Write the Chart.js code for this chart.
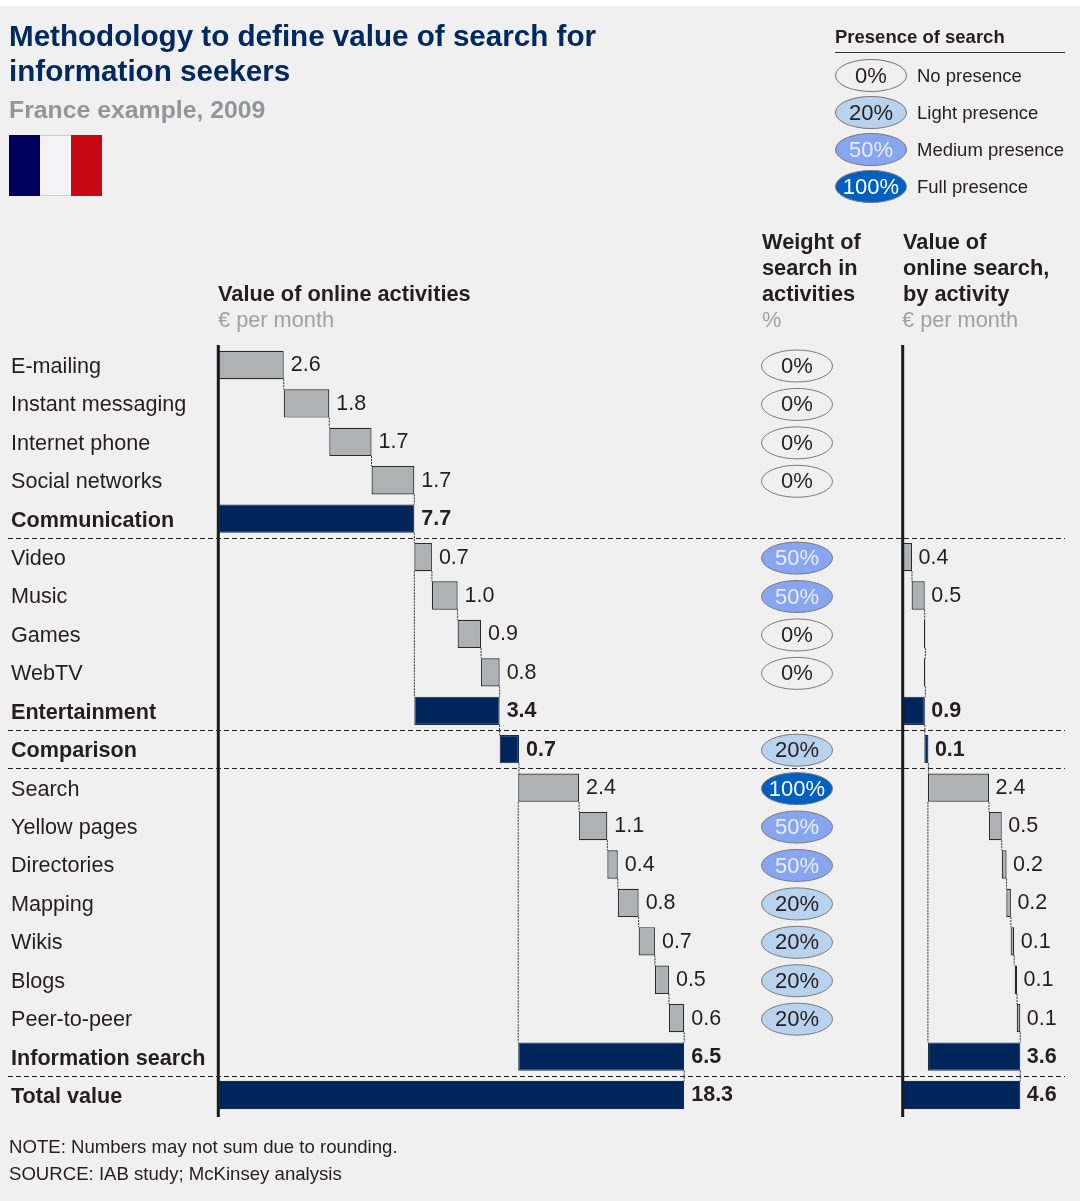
<!DOCTYPE html>
<html>
<head>
<meta charset="utf-8">
<title>Value of search</title>
<script src="https://cdn.jsdelivr.net/npm/chart.js@4"></script>
<style>
    html, body { margin: 0; padding: 0; background: #fff; }
    #page { position: relative; width: 1080px; height: 1201px; overflow: hidden; font-family: "Liberation Sans", Arial, sans-serif; color: #231f20; }
    #bg { position: absolute; left: 0; top: 6px; width: 1080px; height: 1195px; background: #f0f0f0; }
    #wykres { position: absolute; left: 0; top: 0; }
    .t { position: absolute; white-space: nowrap; }
    .title { left: 9px; top: 18px; font-size: 29.6px; line-height: 35px; font-weight: bold; color: #002960; }
    .sub { left: 9px; top: 96px; font-size: 24.8px; line-height: 28px; font-weight: bold; color: #939598; }
    .head { font-size: 21.75px; line-height: 26px; font-weight: bold; }
    .unit { font-size: 21.75px; line-height: 26px; color: #a0a1a4; }
    .flag { position: absolute; left: 9px; top: 135px; width: 93px; height: 61px; display: flex; }
    .flag div { flex: 1; }
    .pill { position: absolute; left: 835px; width: 70px; height: 31px; border: 1px solid #7a7a7a; border-radius: 50%; text-align: center; font-size: 22px; line-height: 31px; }
    .lab { position: absolute; left: 917px; font-size: 18.5px; line-height: 24px; white-space: nowrap; }
    .foot { left: 9px; font-size: 18.6px; line-height: 22px; }
</style>
</head>
<body>
<div id="page">
    <div id="bg"></div>
    <canvas id="wykres" width="1080" height="1201"></canvas>

    <div class="t title">Methodology to define value of search for<br>information seekers</div>
    <div class="t sub">France example, 2009</div>
    <div class="flag"><div style="background:#00005f"></div><div style="background:#f3f3f5;box-shadow:inset 0 1px #d0d0d0,inset 0 -1px #d0d0d0"></div><div style="background:#c80815"></div></div>

    <div class="t" style="left:835px;top:26px;font-size:18.5px;line-height:22px;font-weight:bold">Presence of search</div>
    <div style="position:absolute;left:835px;top:52px;width:230px;height:1px;background:#333"></div>
    <div class="pill" style="top:59px;background:#f0f0f0">0%</div>
    <div class="lab" style="top:64px">No presence</div>
    <div class="pill" style="top:96px;background:#b9d2ee">20%</div>
    <div class="lab" style="top:101px">Light presence</div>
    <div class="pill" style="top:133px;background:#88a6f0;color:#e8eefc">50%</div>
    <div class="lab" style="top:138px">Medium presence</div>
    <div class="pill" style="top:170px;background:#0060c0;color:#fff">100%</div>
    <div class="lab" style="top:175px">Full presence</div>

    <div class="t head" style="left:218px;top:281px">Value of online activities</div>
    <div class="t unit" style="left:218px;top:307px">€ per month</div>
    <div class="t head" style="left:762px;top:229px">Weight of<br>search in<br>activities</div>
    <div class="t unit" style="left:762px;top:307px">%</div>
    <div class="t head" style="left:903px;top:229px">Value of<br>online search,<br>by activity</div>
    <div class="t unit" style="left:902px;top:307px">€ per month</div>

    <div class="t foot" style="top:1136px">NOTE: Numbers may not sum due to rounding.</div>
    <div class="t foot" style="top:1163px">SOURCE: IAB study; McKinsey analysis</div>
</div>

<script>
// Rows of the chart, top to bottom
const categories = ['E-mailing', 'Instant messaging', 'Internet phone', 'Social networks', 'Communication',
    'Video', 'Music', 'Games', 'WebTV', 'Entertainment', 'Comparison',
    'Search', 'Yellow pages', 'Directories', 'Mapping', 'Wikis', 'Blogs', 'Peer-to-peer', 'Information search', 'Total value'];
const totalRows = ['Communication', 'Entertainment', 'Comparison', 'Information search', 'Total value'];

// Value of online activities: printed label, bar start, bar end
const activityLabels = ['2.6', '1.8', '1.7', '1.7', '7.7', '0.7', '1.0', '0.9', '0.8', '3.4', '0.7', '2.4', '1.1', '0.4', '0.8', '0.7', '0.5', '0.6', '6.5', '18.3'];
const activityStart = [0, 2.57, 4.36, 6.02, 0, 7.70, 8.39, 9.40, 10.32, 7.70, 11.05, 11.78, 14.17, 15.28, 15.69, 16.51, 17.15, 17.70, 11.78, 0];
const activityEnd = [2.57, 4.36, 6.02, 7.70, 7.70, 8.39, 9.40, 10.32, 11.05, 11.05, 11.81, 14.17, 15.28, 15.69, 16.51, 17.15, 17.70, 18.30, 18.30, 18.30];

// Weight of search in activities, %
const weights = [0, 0, 0, 0, null, 50, 50, 0, 0, null, 20, 100, 50, 50, 20, 20, 20, 20, null, null];

// Value of online search, by activity
const searchLabels = [null, null, null, null, null, '0.4', '0.5', null, null, '0.9', '0.1', '2.4', '0.5', '0.2', '0.2', '0.1', '0.1', '0.1', '3.6', '4.6'];
const searchStart = [null, null, null, null, null, 0, 0.35, 0.83, 0.83, 0, 0.85, 0.99, 3.39, 3.89, 4.07, 4.24, 4.40, 4.48, 0.99, 0];
const searchEnd = [null, null, null, null, null, 0.365, 0.864, 0.89, 0.89, 0.87, 1.01, 3.39, 3.89, 4.08, 4.25, 4.38, 4.49, 4.62, 4.62, 4.62];

const separatorsAfter = ['Communication', 'Entertainment', 'Comparison', 'Information search'];

const NAVY = '#00255a';
const GREY = '#b0b1b4';
const INK = '#231f20';
const FONT = '"Liberation Sans", Arial, sans-serif';

// px per unit is the same in both panels
const PX = 25.46;
const LEFT_ZERO = 218.3;
const RIGHT_ZERO = 902.7;
const PLOT_LEFT = 218;
const PLOT_RIGHT = 1080;
const WEIGHT_X = 797;

const pillStyle = {
    0: { fill: '#f0f0f0', text: INK },
    20: { fill: '#b9d2ee', text: INK },
    50: { fill: '#88a6f0', text: '#e8eefc' },
    100: { fill: '#0060c0', text: '#ffffff' }
};

function isTotal(i) {
    return totalRows.includes(categories[i]);
}

function zipBars(start, end) {
    return start.map((s, i) => s === null ? null : [s, end[i]]);
}

function barColors() {
    return categories.map((c, i) => isTotal(i) ? NAVY : GREY);
}

function barBorders() {
    return categories.map((c, i) => isTotal(i) ? '#1b2b48' : '#2a2a2a');
}

// Everything Chart.js has no element for: axis lines, separators, connectors, value labels, weight ovals
const overlay = {
    id: 'overlay',
    afterDatasetsDraw(chart) {
        const ctx = chart.ctx;
        const x1 = chart.scales.x;
        const x2 = chart.scales.x2;
        const y = chart.scales.y;
        const half = chart.getDatasetMeta(0).data[0].height / 2;
        const rowY = i => y.getPixelForValue(i);

        function vline(x, from, to) {
            ctx.beginPath();
            ctx.moveTo(x, from);
            ctx.lineTo(x, to);
            ctx.stroke();
        }

        ctx.save();

        // dotted connectors between the bars
        ctx.strokeStyle = '#333';
        ctx.lineWidth = 1;
        ctx.setLineDash([2, 1]);
        for (let i = 0; i < categories.length - 1; i++) {
            vline(x1.getPixelForValue(activityEnd[i]), rowY(i) + half, rowY(i + 1) - half);
            if (searchEnd[i] !== null) {
                vline(x2.getPixelForValue(searchEnd[i]), rowY(i) + half, rowY(i + 1) - half);
            }
        }
        vline(x1.getPixelForValue(activityStart[5]), rowY(5) + half, rowY(9) - half);
        vline(x1.getPixelForValue(activityStart[11]), rowY(11) + half, rowY(18) - half);
        vline(x2.getPixelForValue(searchStart[11]), rowY(11) + half, rowY(18) - half);

        // dashed row separators
        ctx.strokeStyle = '#222';
        ctx.setLineDash([5, 3]);
        separatorsAfter.forEach(name => {
            const i = categories.indexOf(name);
            const py = Math.round((rowY(i) + rowY(i + 1)) / 2) + 0.5;
            ctx.beginPath();
            ctx.moveTo(8, py);
            ctx.lineTo(1065, py);
            ctx.stroke();
        });

        // axis lines
        ctx.setLineDash([]);
        ctx.strokeStyle = '#1a1a1a';
        ctx.lineWidth = 3;
        vline(x1.getPixelForValue(0), 345, 1117);
        vline(x2.getPixelForValue(0), 345, 1117);

        // value labels
        ctx.fillStyle = INK;
        ctx.textAlign = 'left';
        ctx.textBaseline = 'middle';
        categories.forEach((c, i) => {
            ctx.font = (isTotal(i) ? 'bold ' : '') + '21.5px ' + FONT;
            ctx.fillText(activityLabels[i], x1.getPixelForValue(activityEnd[i]) + 7, rowY(i) + 0.5);
            if (searchLabels[i] !== null) {
                ctx.fillText(searchLabels[i], x2.getPixelForValue(searchEnd[i]) + 6.5, rowY(i) + 0.5);
            }
        });

        // weight ovals
        weights.forEach((w, i) => {
            if (w === null) return;
            const st = pillStyle[w];
            ctx.beginPath();
            ctx.ellipse(WEIGHT_X, rowY(i) + 1, 35.5, 16, 0, 0, Math.PI * 2);
            ctx.fillStyle = st.fill;
            ctx.fill();
            ctx.strokeStyle = '#7a7a7a';
            ctx.lineWidth = 1;
            ctx.stroke();
            ctx.fillStyle = st.text;
            ctx.textAlign = 'center';
            ctx.font = '22px ' + FONT;
            ctx.fillText(w + '%', WEIGHT_X, rowY(i) + 2);
        });

        ctx.restore();
    }
};

const config = {
    type: 'bar',
    data: {
        labels: categories,
        datasets: [
            {
                label: 'Value of online activities',
                data: zipBars(activityStart, activityEnd),
                xAxisID: 'x',
                backgroundColor: barColors(),
                borderColor: barBorders(),
                borderWidth: 1.2,
                borderSkipped: false
            },
            {
                label: 'Value of online search',
                data: zipBars(searchStart, searchEnd),
                xAxisID: 'x2',
                backgroundColor: barColors(),
                borderColor: barBorders(),
                borderWidth: 1.2,
                borderSkipped: false
            }
        ]
    },
    options: {
        indexAxis: 'y',
        responsive: false,
        animation: false,
        grouped: false,
        barPercentage: 0.737,
        categoryPercentage: 1,
        layout: { padding: { left: 11, top: 345.8, bottom: 86.8, right: 0 } },
        plugins: { legend: { display: false }, tooltip: { enabled: false }, title: { display: false } },
        scales: {
            x: {
                display: false,
                min: (PLOT_LEFT - LEFT_ZERO) / PX,
                max: (PLOT_RIGHT - LEFT_ZERO) / PX
            },
            x2: {
                display: false,
                min: (PLOT_LEFT - RIGHT_ZERO) / PX,
                max: (PLOT_RIGHT - RIGHT_ZERO) / PX
            },
            y: {
                afterFit(scale) { scale.width = PLOT_LEFT - 11; },
                grid: { display: false },
                border: { display: false },
                ticks: {
                    autoSkip: false,
                    crossAlign: 'far',
                    labelOffset: 2,
                    color: INK,
                    font: ctx => ({ family: FONT, size: 21.6, weight: isTotal(ctx.index) ? 'bold' : 'normal' })
                }
            }
        }
    },
    plugins: [overlay]
};

const wykres = new Chart(document.getElementById('wykres'), config);
window.wykres = wykres;
</script>
</body>
</html>
